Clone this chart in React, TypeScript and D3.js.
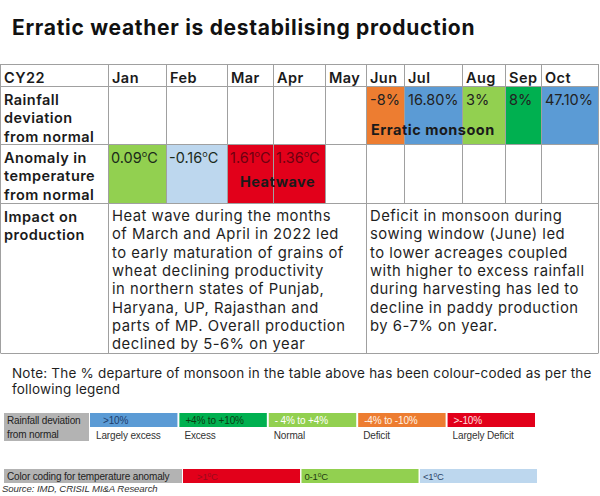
import React from "react";
import * as d3 from "d3";

const months = ["Jan", "Feb", "Mar", "Apr", "May", "Jun", "Jul", "Aug", "Sep", "Oct"];
const rainfallMonths = ["Jun", "Jul", "Aug", "Sep", "Oct"];
const rainfallLabels = ["-8%", "16.80%", "3%", "8%", "47.10%"];
const rainfallClass = ["Deficit", "Largely excess", "Normal", "Excess", "Largely excess"];
const tempMonths = ["Jan", "Feb", "Mar", "Apr"];
const tempValues = ["0.09", "-0.16", "1.61", "1.36"];
const tempClass = ["0-1", "<1", ">1", ">1"];
const rowLabels = [
  ["CY22"],
  ["Rainfall", "deviation", "from normal"],
  ["Anomaly in", "temperature", "from normal"],
  ["Impact on", "production"],
];
const impactLeft = [
  "Heat wave during the months",
  "of March and April in 2022 led",
  "to early maturation of grains of",
  "wheat declining productivity",
  "in northern states of Punjab,",
  "Haryana, UP, Rajasthan and",
  "parts of MP. Overall production",
  "declined by 5-6% on year",
];
const impactRight = [
  "Deficit in monsoon during",
  "sowing window (June) led",
  "to lower acreages coupled",
  "with higher to excess rainfall",
  "during harvesting has led to",
  "decline in paddy production",
  "by 6-7% on year.",
];
const rainLegendRanges = [">10%", "+4% to +10%", "- 4% to +4%", "-4% to -10%", ">-10%"];
const rainLegendNames = ["Largely excess", "Excess", "Normal", "Deficit", "Largely Deficit"];
const tempLegendNames = [">1", "0-1", "<1"];

// layout (not data)
const colEdges = [108, 166, 227, 273, 325, 366, 404, 462, 505, 541, 598];
const rowEdges = [64, 86, 144, 203, 353];

const rainColor = d3
  .scaleOrdinal<string, string>()
  .domain(rainLegendNames)
  .range(["#5b9bd5", "#00b050", "#92d050", "#ed7d31", "#e2001a"]);
const rainLegendText = d3
  .scaleOrdinal<string, string>()
  .domain(rainLegendNames)
  .range(["#1f3d6b", "#0d3b12", "#ffffff", "#fff3e6", "#ffe0e0"]);
const tempColor = d3
  .scaleOrdinal<string, string>()
  .domain(tempLegendNames)
  .range(["#e2001a", "#92d050", "#bdd7ee"]);
const tempText = d3
  .scaleOrdinal<string, string>()
  .domain(tempLegendNames)
  .range(["#9a0a1a", "#1f3a10", "#2a3f66"]);

const FONT = "Inter, 'Open Sans', sans-serif";
const CAL = "'Liberation Sans', Arial, sans-serif";
const CALS = 10;
const CALLS = -0.15;

function Deg({ size }: { size: number }) {
  return (
    <>
      <tspan fontSize={size * 0.62} dy={-size * 0.38}>o</tspan>
      <tspan dy={size * 0.38}>C</tspan>
    </>
  );
}

export default function App() {
  const W = 600,
    H = 496;
  const colLeft = (m: string) => colEdges[months.indexOf(m)];
  const colRight = (m: string) => colEdges[months.indexOf(m) + 1];
  const y = d3.scaleOrdinal<number, number>().domain([0, 1, 2, 3]).range(rowEdges.slice(0, 4));

  const legX = d3.scaleBand<string>().domain(rainLegendNames).range([90, 535]).paddingInner(0.022);
  const tLegX = d3.scaleBand<string>().domain(tempLegendNames).range([183, 537]).paddingInner(0.012);

  const gridColor = "#a0a0a0";

  return (
    <svg
      width={W}
      height={H}
      style={{ position: "absolute", left: 0, top: 0, background: "#fff" }}
      fontFamily={FONT}
    >
      <rect width={W} height={H} fill="#fff" />
      <text x={12} y={35} fontSize={21} fontWeight={700} fill="#111" letterSpacing={0.7}>
        Erratic weather is destabilising production
      </text>

      {/* rainfall cells */}
      {rainfallMonths.map((m, i) => (
        <rect
          key={m}
          x={colLeft(m)}
          y={rowEdges[1]}
          width={colRight(m) - colLeft(m)}
          height={rowEdges[2] - rowEdges[1]}
          fill={rainColor(rainfallClass[i])}
        />
      ))}
      {/* temperature cells */}
      {tempMonths.map((m, i) => (
        <rect
          key={m}
          x={colLeft(m)}
          y={rowEdges[2]}
          width={colRight(m) - colLeft(m)}
          height={rowEdges[3] - rowEdges[2]}
          fill={tempColor(tempClass[i])}
        />
      ))}

      {/* grid */}
      <g stroke={gridColor} strokeWidth={1}>
        {rowEdges.map((ry, i) => (
          <line key={"h" + i} x1={0.5} x2={598.5} y1={ry + 0.5} y2={ry + 0.5} />
        ))}
        <line x1={0.5} x2={0.5} y1={rowEdges[0]} y2={rowEdges[4]} />
        <line x1={598.5} x2={598.5} y1={rowEdges[0]} y2={rowEdges[4]} />
        <line x1={108.5} x2={108.5} y1={rowEdges[0]} y2={rowEdges[4]} />
        {colEdges.slice(1, -1).map((cx, i) => (
          <line
            key={"v" + i}
            x1={cx + 0.5}
            x2={cx + 0.5}
            y1={rowEdges[0]}
            y2={cx === 366 ? rowEdges[4] : rowEdges[3]}
          />
        ))}
      </g>

      {/* row labels */}
      {rowLabels.map((lines, r) => (
        <text key={r} fontSize={14.5} fontWeight={600} fill="#1a1a1a" letterSpacing={0.45}>
          {lines.map((l, k) => (
            <tspan key={k} x={4} y={y(r) + (r === 0 ? 19 : 19 + k * 18.3)}>
              {l}
            </tspan>
          ))}
        </text>
      ))}

      {/* month headers */}
      {months.map((m) => (
        <text
          key={m}
          x={colLeft(m) + 4}
          y={rowEdges[0] + 19}
          fontSize={14.5}
          fontWeight={600}
          fill="#1a1a1a"
          letterSpacing={0.45}
        >
          {m}
        </text>
      ))}

      {/* rainfall values */}
      {rainfallMonths.map((m, i) => (
        <text key={m} x={colLeft(m) + 4} y={rowEdges[1] + 19} fontSize={14.5} fill="#222">
          {rainfallLabels[i]}
        </text>
      ))}
      <text x={371} y={rowEdges[1] + 49} fontSize={14.5} fontWeight={700} fill="#1a1a1a" letterSpacing={0.5}>
        Erratic monsoon
      </text>

      {/* temperature values */}
      {tempMonths.map((m, i) => (
        <text
          key={m}
          x={colLeft(m) + 3}
          y={rowEdges[2] + 19}
          fontSize={14.5}
          fill={tempClass[i] === ">1" ? "#6e0010" : "#1a2a1a"}
        >
          {tempValues[i]}
          <Deg size={14.5} />
        </text>
      ))}
      <text x={240} y={rowEdges[2] + 43} fontSize={14.5} fontWeight={700} fill="#1a1a1a" letterSpacing={0.5}>
        Heatwave
      </text>

      {/* impact */}
      <text fontSize={14.8} fill="#1f1f1f" letterSpacing={0.5}>
        {impactLeft.map((l, k) => (
          <tspan key={k} x={112} y={rowEdges[3] + 18 + k * 18.3}>
            {l}
          </tspan>
        ))}
      </text>
      <text fontSize={14.8} fill="#1f1f1f" letterSpacing={0.5}>
        {impactRight.map((l, k) => (
          <tspan key={k} x={370} y={rowEdges[3] + 18 + k * 18.3}>
            {l}
          </tspan>
        ))}
      </text>

      {/* note */}
      <text fontSize={13.5} fill="#1f1f1f" letterSpacing={0.2}>
        <tspan x={12} y={378}>
          Note: The % departure of monsoon in the table above has been colour-coded as per the
        </tspan>
        <tspan x={12} y={394}>
          following legend
        </tspan>
      </text>

      {/* rainfall legend */}
      <rect x={4} y={413} width={85} height={28} fill="#b3b3b3" />
      <text fontFamily={CAL} fontSize={CALS} letterSpacing={CALLS} fill="#222">
        <tspan x={7} y={424}>Rainfall  deviation</tspan>
        <tspan x={7} y={438}>from normal</tspan>
      </text>
      {rainLegendNames.map((n, i) => (
        <g key={n}>
          <rect x={legX(n)} y={413} width={legX.bandwidth()} height={14} fill={rainColor(n)} />
          <text
            x={(legX(n) as number) + (i === 0 ? 13 : 6)}
            y={424}
            fontFamily={CAL}
            fontSize={CALS}
            letterSpacing={CALLS}
            fill={rainLegendText(n)}
          >
            {rainLegendRanges[i]}
          </text>
          <text
            x={(legX(n) as number) + (i === 0 ? 6 : 5)}
            y={439}
            fontFamily={CAL}
            fontSize={CALS}
            letterSpacing={CALLS}
            fill="#333"
          >
            {n}
          </text>
        </g>
      ))}

      {/* temperature legend */}
      <rect x={4} y={469} width={178} height={14} fill="#b3b3b3" />
      <text x={7} y={480} fontFamily={CAL} fontSize={CALS} letterSpacing={CALLS} fill="#222">
        Color coding for temperature anomaly
      </text>
      {tempLegendNames.map((n) => (
        <g key={n}>
          <rect x={tLegX(n)} y={469} width={tLegX.bandwidth()} height={14} fill={tempColor(n)} />
          <text
            x={(tLegX(n) as number) + (n === ">1" ? 14 : 3)}
            y={480}
            fontFamily={CAL}
            fontSize={9.5}
            letterSpacing={CALLS}
            fill={tempText(n)}
          >
            {n}
            <tspan fontSize={6.5} dy={-3.5}>o</tspan>
            <tspan dy={3.5}>C</tspan>
          </text>
        </g>
      ))}

      <text x={2} y={492} fontFamily={CAL} fontSize={9.6} letterSpacing={-0.1} fontStyle="italic" fill="#333">
        Source: IMD, CRISIL MI&amp;A Research
      </text>
    </svg>
  );
}
